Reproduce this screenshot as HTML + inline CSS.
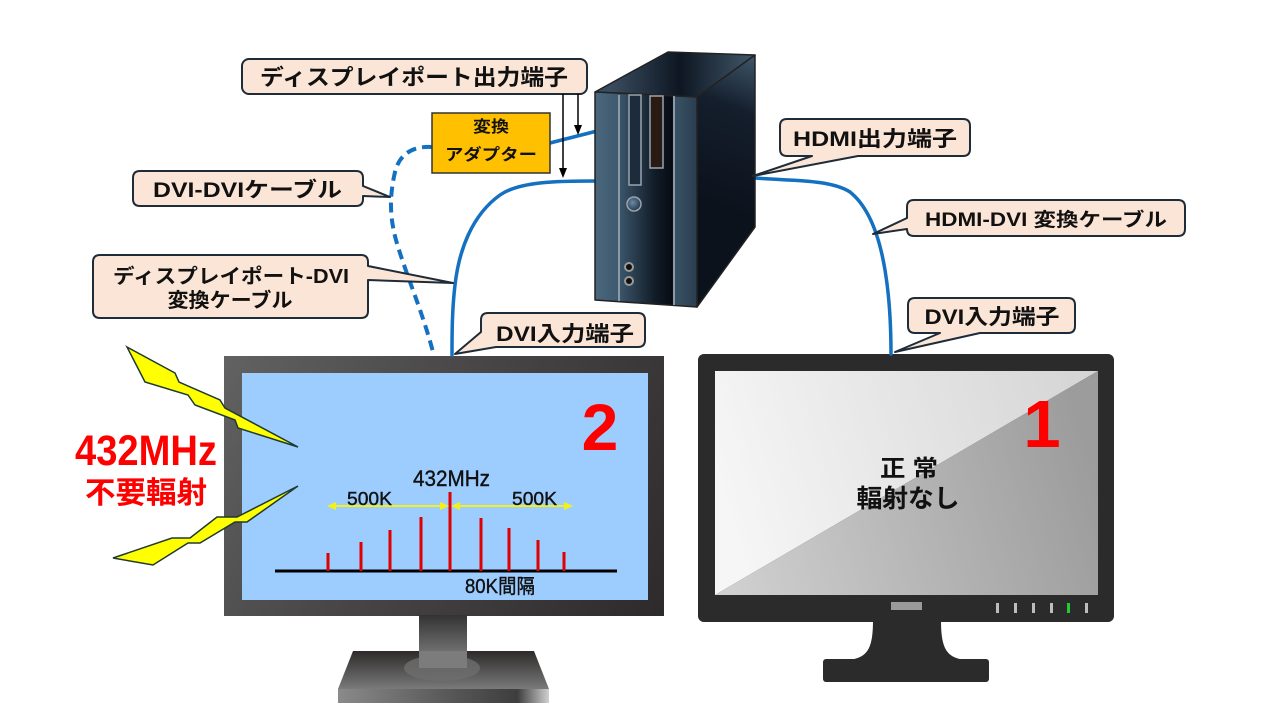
<!DOCTYPE html>
<html><head><meta charset="utf-8"><style>
html,body{margin:0;padding:0;background:#fff;}
svg{display:block;}
text{font-family:"Liberation Sans","Noto Sans CJK JP",sans-serif;}
.lb{font-weight:bold;fill:#111;}
.ct{fill:#111;stroke:#111;stroke-width:0.4;}
</style></head><body>
<svg width="1280" height="720" viewBox="0 0 1280 720" xmlns="http://www.w3.org/2000/svg">
<defs>
 <linearGradient id="lframe" x1="224" y1="356" x2="664" y2="616" gradientUnits="userSpaceOnUse">
  <stop offset="0" stop-color="#626262"/>
  <stop offset="0.45" stop-color="#474545"/>
  <stop offset="1" stop-color="#2c2a2a"/>
 </linearGradient>
 <linearGradient id="lneck" x1="0" y1="0" x2="0" y2="1">
  <stop offset="0" stop-color="#333"/>
  <stop offset="1" stop-color="#8a8a8a"/>
 </linearGradient>
 <linearGradient id="lbase" x1="0" y1="0" x2="0" y2="1">
  <stop offset="0" stop-color="#2e2a2a"/>
  <stop offset="1" stop-color="#7a7a7a"/>
 </linearGradient>
 <linearGradient id="lrim" x1="0" y1="0" x2="1" y2="0">
  <stop offset="0" stop-color="#8a8a8a"/>
  <stop offset="0.5" stop-color="#5a5a5a"/>
  <stop offset="0.85" stop-color="#3e3e3e"/>
  <stop offset="1" stop-color="#d0d0d0"/>
 </linearGradient>
 <linearGradient id="scrA" x1="715" y1="480" x2="1098" y2="371" gradientUnits="userSpaceOnUse">
  <stop offset="0" stop-color="#f6f6f6"/>
  <stop offset="1" stop-color="#d4d4d4"/>
 </linearGradient>
 <linearGradient id="scrB" x1="715" y1="595" x2="1098" y2="480" gradientUnits="userSpaceOnUse">
  <stop offset="0" stop-color="#d2d2d2"/>
  <stop offset="1" stop-color="#9c9c9c"/>
 </linearGradient>
 <linearGradient id="pcfront" x1="595" y1="0" x2="697" y2="0" gradientUnits="userSpaceOnUse">
  <stop offset="0" stop-color="#4a677d"/>
  <stop offset="0.22" stop-color="#3f5a6f"/>
  <stop offset="0.25" stop-color="#3a5468"/>
  <stop offset="0.6" stop-color="#101a26"/>
  <stop offset="0.76" stop-color="#080c14"/>
  <stop offset="0.78" stop-color="#3a5266"/>
  <stop offset="1" stop-color="#2a3e50"/>
 </linearGradient>
 <linearGradient id="pctop" x1="610" y1="70" x2="750" y2="70" gradientUnits="userSpaceOnUse">
  <stop offset="0" stop-color="#3a4d60"/>
  <stop offset="0.5" stop-color="#0e1622"/>
  <stop offset="1" stop-color="#3e5466"/>
 </linearGradient>
 <linearGradient id="pcside" x1="755" y1="60" x2="700" y2="200" gradientUnits="userSpaceOnUse">
  <stop offset="0" stop-color="#3c5266"/>
  <stop offset="0.35" stop-color="#141e2c"/>
  <stop offset="1" stop-color="#0c121c"/>
 </linearGradient>
 <radialGradient id="btn" cx="0.4" cy="0.4" r="0.7">
  <stop offset="0" stop-color="#6a8aa6"/>
  <stop offset="1" stop-color="#1c2c3c"/>
 </radialGradient>
</defs>

<!-- LEFT MONITOR -->
<rect x="224" y="356" width="440" height="260" fill="url(#lframe)"/>
<rect x="242" y="373" width="406" height="227" fill="#9dcdff"/>
<rect x="419" y="615" width="48" height="53" fill="url(#lneck)"/>
<polygon points="353,651 534,651 549,689 338,689" fill="url(#lbase)"/>
<rect x="338" y="689" width="211" height="14" fill="url(#lrim)"/>
<ellipse cx="442" cy="668" rx="38" ry="13" fill="#6e6e6e" opacity="0.8"/>
<rect x="419" y="651" width="48" height="17" fill="#7c7c7c"/>

<!-- chart -->
<line x1="275" y1="571" x2="617" y2="571" stroke="#000" stroke-width="3"/>
<g stroke="#e00000" stroke-width="3">
 <line x1="328" y1="553" x2="328" y2="571"/>
 <line x1="361" y1="542" x2="361" y2="571"/>
 <line x1="390" y1="530" x2="390" y2="571"/>
 <line x1="421" y1="517" x2="421" y2="571"/>
 <line x1="450" y1="492" x2="450" y2="571"/>
 <line x1="481" y1="518" x2="481" y2="571"/>
 <line x1="509" y1="528" x2="509" y2="571"/>
 <line x1="538" y1="540" x2="538" y2="571"/>
 <line x1="564" y1="552" x2="564" y2="571"/>
</g>
<g stroke="#f2f21a" stroke-width="2" fill="#f2f21a">
 <line x1="332" y1="506" x2="444" y2="506"/>
 <polygon points="327,506 336,502 336,510" stroke="none"/>
 <polygon points="449,506 440,502 440,510" stroke="none"/>
 <line x1="456" y1="506" x2="568" y2="506"/>
 <polygon points="451,506 460,502 460,510" stroke="none"/>
 <polygon points="573,506 564,502 564,510" stroke="none"/>
</g>
<text class="ct" x="451.5" y="486" font-size="22" text-anchor="middle" textLength="77" lengthAdjust="spacingAndGlyphs">432MHz</text>
<text class="ct" x="369.5" y="505" font-size="18" text-anchor="middle" textLength="45" lengthAdjust="spacingAndGlyphs">500K</text>
<text class="ct" x="534.5" y="505" font-size="18" text-anchor="middle" textLength="45" lengthAdjust="spacingAndGlyphs">500K</text>
<text class="ct" x="500" y="593" font-size="20" text-anchor="middle" textLength="70" lengthAdjust="spacingAndGlyphs">80K間隔</text>
<text x="600" y="450" font-size="66" font-weight="bold" text-anchor="middle" fill="#ff0000">2</text>

<!-- lightning -->
<polygon points="127,347 175,373 179,382 220,400 225,408 298,447 238,428 235,420 195,405 188,395 145,382" fill="#ffff00" stroke="#1f3a30" stroke-width="1.5" stroke-linejoin="miter"/>
<polygon points="298,486 247,522 235,522 200,543 188,543 153,565 113,558 172,538 190,538 217,517 237,517" fill="#ffff00" stroke="#1f3a30" stroke-width="1.5"/>

<text x="146" y="465" font-size="43" font-weight="bold" text-anchor="middle" textLength="142" lengthAdjust="spacingAndGlyphs" fill="#ff0000">432MHz</text>
<text x="146" y="503" font-size="30" font-weight="bold" text-anchor="middle" textLength="122" lengthAdjust="spacingAndGlyphs" fill="#ff0000">不要輻射</text>

<!-- RIGHT MONITOR -->
<path d="M873,620 C873,648 868,659 846,660 L968,660 C946,659 941,648 941,620 Z" fill="#2b2b2b"/>
<rect x="823" y="659" width="166" height="23" rx="3" fill="#2b2b2b"/>
<rect x="698" y="354" width="416" height="268" rx="6" fill="#2b2b2b"/>
<polygon points="715,371 1098,371 715,595" fill="url(#scrA)"/>
<polygon points="1098,371 1098,595 715,595" fill="url(#scrB)"/>
<rect x="891" y="602" width="31" height="8" fill="#9a9a9a"/>
<g fill="#bdbdbd">
 <rect x="996" y="603" width="3" height="10"/>
 <rect x="1014" y="603" width="3" height="10"/>
 <rect x="1032" y="603" width="3" height="10"/>
 <rect x="1050" y="603" width="3" height="10"/>
 <rect x="1067" y="603" width="3" height="10" fill="#22cc33"/>
 <rect x="1085" y="603" width="3" height="10"/>
</g>
<text x="1042" y="447" font-size="67" font-weight="bold" text-anchor="middle" fill="#ff0000">1</text>
<text x="909" y="476" font-size="23" font-weight="bold" text-anchor="middle" textLength="58" lengthAdjust="spacingAndGlyphs" fill="#111">正 常</text>
<text x="908" y="507" font-size="25" font-weight="bold" text-anchor="middle" textLength="103" lengthAdjust="spacingAndGlyphs" fill="#111">輻射なし</text>

<!-- CABLES -->
<g fill="none" stroke="#1470c0" stroke-width="3.5" stroke-linecap="round">
 <path d="M597,181 C560,181 520,181 500,195 C472,215 459,250 455,285 C452,310 452,335 452,355"/>
 <path d="M550,143 C565,139 582,135 597,131"/>
 <path d="M755,178 C790,181 830,179 850,192 C870,208 880,240 885,270 C890,300 891,330 891,354"/>
 <path d="M432,147 C415,146 400,152 395,172 C389,198 390,218 396,240 C406,275 422,310 433,352" stroke-dasharray="10,6" stroke-linecap="butt" stroke-width="4"/>
</g>

<!-- PC TOWER -->
<g stroke="#222" stroke-width="1.5" stroke-linejoin="round">
 <polygon points="595,92 668,52 755,55 697,97" fill="url(#pctop)"/>
 <polygon points="697,97 755,55 755,227 697,307" fill="url(#pcside)"/>
 <polygon points="595,92 697,97 697,307 595,300" fill="url(#pcfront)"/>
</g>
<g stroke="#8d9aa6" stroke-width="2" fill="none">
 <line x1="619" y1="95" x2="619" y2="301"/>
 <line x1="674" y1="96" x2="674" y2="305"/>
</g>
<rect x="629" y="95" width="12" height="90" fill="#1c2c3c" stroke="#9aa4ae" stroke-width="1.5"/>
<rect x="650" y="96" width="13" height="72" fill="#2a1a14" stroke="#9aa4ae" stroke-width="1.5"/>
<circle cx="634" cy="204" r="7" fill="url(#btn)" stroke="#9aa4ae" stroke-width="1.5"/>
<circle cx="629" cy="267" r="4" fill="#111" stroke="#9a9a9a" stroke-width="2"/>
<circle cx="629" cy="281" r="4" fill="#111" stroke="#9a9a9a" stroke-width="2"/>

<!-- ADAPTER -->
<rect x="432" y="113" width="118" height="60" fill="#ffc000" stroke="#333" stroke-width="1.5"/>
<text x="491" y="132" font-size="16" font-weight="bold" text-anchor="middle" textLength="36" lengthAdjust="spacingAndGlyphs" fill="#111">変換</text>
<text x="491" y="160" font-size="16" font-weight="bold" text-anchor="middle" textLength="92" lengthAdjust="spacingAndGlyphs" fill="#111">アダプター</text>

<!-- CALLOUTS -->
<g fill="#fbe5d6" stroke="#1e2b38" stroke-width="2" stroke-linejoin="round">
 <rect x="242" y="59" width="345" height="35" rx="7"/>
 <path d="M140,171 H356 Q363,171 363,178 V186 L390,197 L363,196 V199 Q363,206 356,206 H140 Q133,206 133,199 V178 Q133,171 140,171 Z"/>
 <path d="M100,255 H361 Q368,255 368,262 V266 L453,283 L368,280 V311 Q368,318 361,318 H100 Q93,318 93,311 V262 Q93,255 100,255 Z"/>
 <path d="M488,313 H638 Q645,313 645,320 V340 Q645,347 638,347 H496 L455,354 L481,332 V320 Q481,313 488,313 Z"/>
 <path d="M787,119 H963 Q970,119 970,126 V149 Q970,156 963,156 H858 L753,176 L812,156 H787 Q780,156 780,149 V126 Q780,119 787,119 Z"/>
 <path d="M914,200 H1178 Q1185,200 1185,207 V229 Q1185,236 1178,236 H914 Q907,236 907,229 L873,234 L907,218 V207 Q907,200 914,200 Z"/>
 <path d="M915,298 H1068 Q1075,298 1075,305 V326 Q1075,333 1068,333 H980 L895,352 L940,333 H915 Q908,333 908,326 V305 Q908,298 915,298 Z"/>
</g>
<!-- arrows -->
<g stroke="#000" stroke-width="1.5">
 <line x1="563" y1="94" x2="563" y2="170"/>
 <line x1="578" y1="94" x2="578" y2="127"/>
</g>
<polygon points="559,168 567,168 563,178" fill="#000"/>
<polygon points="574,125 582,125 578,135" fill="#000"/>

<text class="lb" x="414" y="85" font-size="22" text-anchor="middle" textLength="308" lengthAdjust="spacingAndGlyphs">ディスプレイポート出力端子</text>
<text class="lb" x="247.5" y="197" font-size="21" text-anchor="middle" textLength="189" lengthAdjust="spacingAndGlyphs">DVI-DVIケーブル</text>
<text class="lb" x="231" y="283" font-size="20" text-anchor="middle" textLength="236" lengthAdjust="spacingAndGlyphs">ディスプレイポート-DVI</text>
<text class="lb" x="230" y="307" font-size="20" text-anchor="middle" textLength="125" lengthAdjust="spacingAndGlyphs">変換ケーブル</text>
<text class="lb" x="565" y="341" font-size="21" text-anchor="middle" textLength="138" lengthAdjust="spacingAndGlyphs">DVI入力端子</text>
<text class="lb" x="875" y="146" font-size="21" text-anchor="middle" textLength="164" lengthAdjust="spacingAndGlyphs">HDMI出力端子</text>
<text class="lb" x="1046" y="226" font-size="19" text-anchor="middle" textLength="242" lengthAdjust="spacingAndGlyphs">HDMI-DVI 変換ケーブル</text>
<text class="lb" x="992" y="324" font-size="21" text-anchor="middle" textLength="135" lengthAdjust="spacingAndGlyphs">DVI入力端子</text>
</svg>
</body></html>
